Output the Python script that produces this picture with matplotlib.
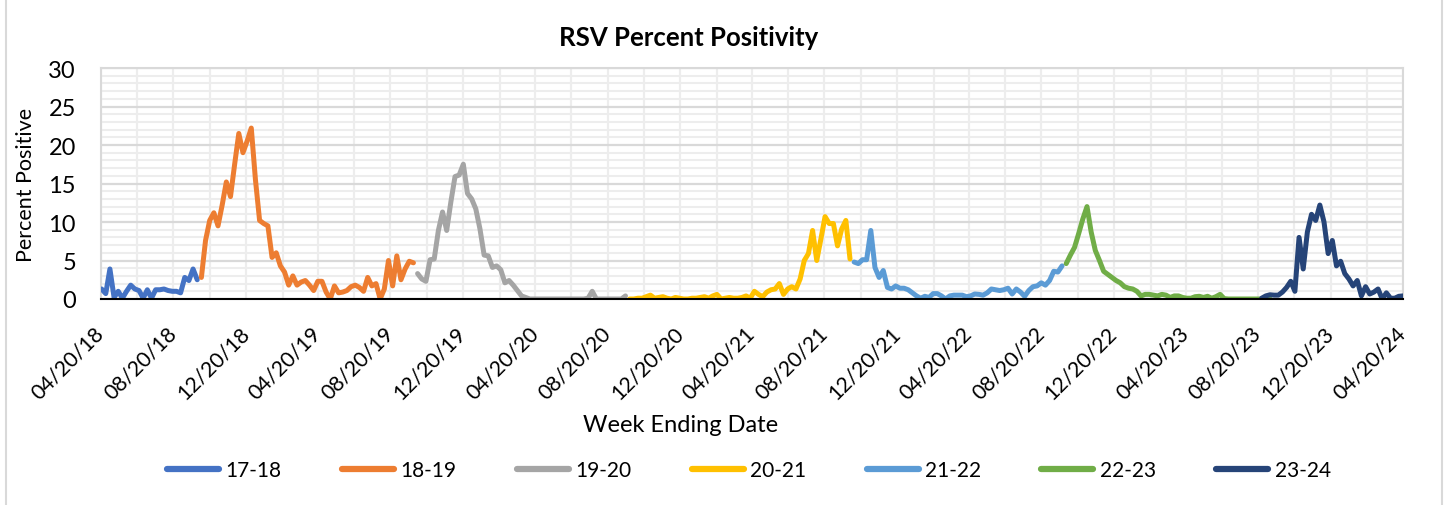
import matplotlib
matplotlib.use('Agg')
import matplotlib.pyplot as plt
import matplotlib.dates as mdates
import pandas as pd
from matplotlib.ticker import MultipleLocator
from matplotlib.lines import Line2D

plt.rcParams['font.family'] = ['Lato', 'DejaVu Sans']

# ---------------- data ----------------
season_labels = ['17-18', '18-19', '19-20', '20-21', '21-22', '22-23', '23-24']
season_colors = ['#4472C4', '#ED7D31', '#A5A5A5', '#FFC000', '#5B9BD5', '#70AD47', '#264478']
season_starts = ['2018-04-21', '2018-10-06', '2019-10-05', '2020-09-26',
                 '2021-10-09', '2022-10-01', '2023-08-26']

v1718 = [1.3, 0.7, 3.9, 0.2, 1.0, 0.1, 1.0, 1.8, 1.3, 1.1, 0.1, 1.2, 0.1, 1.2,
         1.2, 1.3, 1.1, 1.0, 1.0, 0.8, 2.8, 2.4, 3.9, 2.5]
v1819 = [2.8, 7.6, 10.2, 11.2, 9.5, 12.2, 15.2, 13.3, 17.5, 21.5, 19.0, 20.5,
         22.2, 15.5, 10.2, 9.8, 9.5, 5.4, 6.0, 4.3, 3.5, 1.8, 3.0, 1.8, 2.2,
         2.4, 1.8, 1.1, 2.3, 2.3, 0.9, 0.0, 1.7, 0.8, 0.9, 1.1, 1.6, 1.8, 1.5,
         1.0, 2.8, 1.7, 2.0, 0.0, 1.3, 5.0, 1.7, 5.6, 2.5, 3.9, 4.9, 4.7]
v1920 = [3.3, 2.6, 2.3, 5.1, 5.2, 8.9, 11.3, 8.9, 12.6, 15.9, 16.1, 17.5, 13.7,
         13.0, 11.7, 9.1, 5.7, 5.6, 4.1, 4.3, 3.8, 2.1, 2.4, 1.8, 1.1, 0.4, 0.2,
         0, 0, 0, 0, 0, 0, 0, 0, 0, 0, 0, 0, 0, 0,
         0.1, 1.0, 0.0, 0, 0, 0, 0, 0, 0, 0.4]
v2021 = [0, 0, 0.1, 0.1, 0.3, 0.5, 0.1, 0.2, 0.3, 0.1, 0, 0.2, 0.1, 0, 0, 0.1,
         0.1, 0.2, 0.3, 0.1, 0.4, 0.6, 0, 0.1, 0.2, 0.1, 0.1, 0.2, 0.4, 0.1,
         1.0, 0.6, 0.3, 0.9, 1.2, 1.3, 2.0, 0.6, 1.3, 1.6, 1.3, 2.6, 5.0, 5.9,
         8.9, 5.0, 7.8, 10.7, 9.8, 9.8, 6.9, 9.1, 10.2, 5.2]
v2122 = [4.8, 4.6, 5.1, 5.1, 8.9, 4.1, 2.8, 3.7, 1.5, 1.3, 1.7, 1.4, 1.4, 1.2,
         0.8, 0.4, 0.1, 0.35, 0.2, 0.7, 0.7, 0.4, 0.0, 0.4, 0.5, 0.5, 0.5, 0.3,
         0.4, 0.65, 0.6, 0.5, 0.8, 1.3, 1.2, 1.1, 1.2, 1.4, 0.65, 1.3, 0.9,
         0.35, 1.1, 1.6, 1.7, 2.1, 1.8, 2.4, 3.6, 3.5, 4.3]
v2223 = [4.6, 5.7, 6.7, 8.5, 10.4, 12.0, 8.7, 6.3, 5.0, 3.6, 3.2, 2.8, 2.4,
         2.1, 1.6, 1.4, 1.3, 1.0, 0.4, 0.6, 0.6, 0.5, 0.4, 0.6, 0.5, 0.2, 0.4,
         0.4, 0.2, 0.1, 0.1, 0.3, 0.35, 0.2, 0.35, 0.1, 0.3, 0.6, 0.05,
         0, 0, 0, 0, 0, 0, 0, 0, 0, 0, 0]
v2324 = [0.1, 0.4, 0.55, 0.5, 0.5, 0.9, 1.5, 2.3, 1.0, 8.0, 3.9, 8.7, 11.0,
         10.2, 12.2, 10.0, 5.9, 7.6, 4.3, 4.9, 3.3, 2.6, 1.7, 2.4, 0.4, 1.6,
         0.65, 0.9, 1.3, 0.0, 0.8, 0.1, 0.1, 0.35, 0.4]
season_values = [v1718, v1819, v1920, v2021, v2122, v2223, v2324]

title = 'RSV Percent Positivity'
x_label = 'Week Ending Date'
y_label = 'Percent Positive'
x_start, x_end = '2018-04-20', '2024-04-20'

# ---------------- figure ----------------
W, H = 1447, 506
fig = plt.figure(figsize=(W / 100, H / 100), dpi=100)
ax = fig.add_axes([101 / W, 1 - 300 / H, (1403 - 101) / W, (300 - 69) / H])

for lab, col, st, vals in zip(season_labels, season_colors, season_starts, season_values):
    d = pd.date_range(st, periods=len(vals), freq='7D')
    ax.plot(d, vals, color=col, lw=3.6, label=lab,
            solid_joinstyle='round', solid_capstyle='round', zorder=3)

ax.set_xlim(pd.Timestamp(x_start), pd.Timestamp(x_end))
ax.set_ylim(0, 30)

major_x = pd.date_range(x_start, x_end, freq=pd.DateOffset(months=4))
minor_x = pd.date_range(x_start, x_end, freq=pd.DateOffset(months=2))
ax.set_xticks(major_x)
ax.set_xticks(minor_x, minor=True)
ax.xaxis.set_major_formatter(mdates.DateFormatter('%m/%d/%y'))
ax.yaxis.set_major_locator(MultipleLocator(5))
ax.yaxis.set_minor_locator(MultipleLocator(1))

ax.grid(which='minor', axis='y', color='#EDEDED', lw=1.5, zorder=0)
ax.grid(which='major', axis='y', color='#D9D9D9', lw=1.6, zorder=0)
ax.grid(which='both', axis='x', color='#EDEDED', lw=1.6, zorder=0)
ax.set_axisbelow(True)

for s in ['left', 'top', 'right']:
    ax.spines[s].set_color('#D9D9D9')
    ax.spines[s].set_linewidth(1.5)
ax.spines['bottom'].set_color('black')
ax.spines['bottom'].set_linewidth(1.5)
ax.spines['bottom'].set_zorder(4)

ax.tick_params(which='both', length=0)
ax.tick_params(axis='y', labelsize=17, pad=18)
ax.tick_params(axis='x', labelsize=15.3, pad=22)
for t in ax.get_xticklabels():
    t.set_rotation(45)
    t.set_rotation_mode('anchor')
    t.set_ha('right')
    t.set_va('center')

fig.text(689 / W, 1 - 38 / H, title, fontsize=18.5, fontweight='bold',
         ha='center', va='center')
fig.text(681 / W, 1 - 425 / H, x_label, fontsize=17, ha='center', va='center')
fig.text(26 / W, 1 - 185 / H, y_label, fontsize=15.5, rotation=90,
         ha='center', va='center')

leg = fig.legend(loc='center', bbox_to_anchor=(749 / W, 1 - 471 / H), ncol=7,
                 frameon=False, fontsize=15, handlelength=2.5, handletextpad=0.3,
                 columnspacing=2.9)
for h in leg.get_lines():
    h.set_linewidth(4.5)

# chart area border
fig.add_artist(Line2D([6 / W, 6 / W], [0, 1], color='#D9D9D9', lw=1.5))
fig.add_artist(Line2D([1442 / W, 1442 / W], [0, 1], color='#D9D9D9', lw=1.5))

fig.savefig('out.png', dpi=100)
